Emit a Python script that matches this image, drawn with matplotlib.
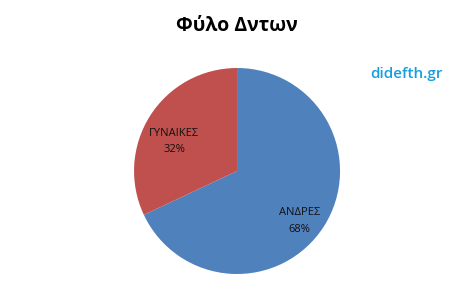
import matplotlib
matplotlib.use('Agg')
import matplotlib.pyplot as plt

categories = ['ΑΝΔΡΕΣ', 'ΓΥΝΑΙΚΕΣ']
values = [68, 32]
colors = ['#4F81BD', '#C0504D']

plt.rcParams['font.family'] = ['Open Sans', 'DejaVu Sans']

fig = plt.figure(figsize=(4.76, 3.04), dpi=100)
fig.patch.set_facecolor('white')

ax = fig.add_axes([0.498 - 0.2164, 0.4375 - 0.3388, 0.4328, 0.6776])


def make_label(pct):
    return ''


wedges, texts, autotexts = ax.pie(values, colors=colors, startangle=90, counterclock=False,
                                  autopct=make_label, pctdistance=0.72,
                                  wedgeprops=dict(linewidth=0))
for t, name, v in zip(autotexts, categories, values):
    t.set_text(f'{name}\n{v}%')
    t.set_fontsize(8)
    t.set_color('#111111')
    t.set_linespacing(1.65)
    x, y = t.get_position()
    t.set_position((x, y - 0.1))
ax.set_xlim(-1, 1)
ax.set_ylim(-1, 1)
ax.set_aspect('equal')

fig.text(0.498, 0.915, 'Φύλο Δντων', ha='center', va='center', fontsize=14, fontweight='bold')
fig.text(0.777, 0.755, 'didefth.gr', ha='left', va='center', fontsize=11, color='#169FDE', fontweight='semibold')

fig.savefig('out.png', dpi=100)
